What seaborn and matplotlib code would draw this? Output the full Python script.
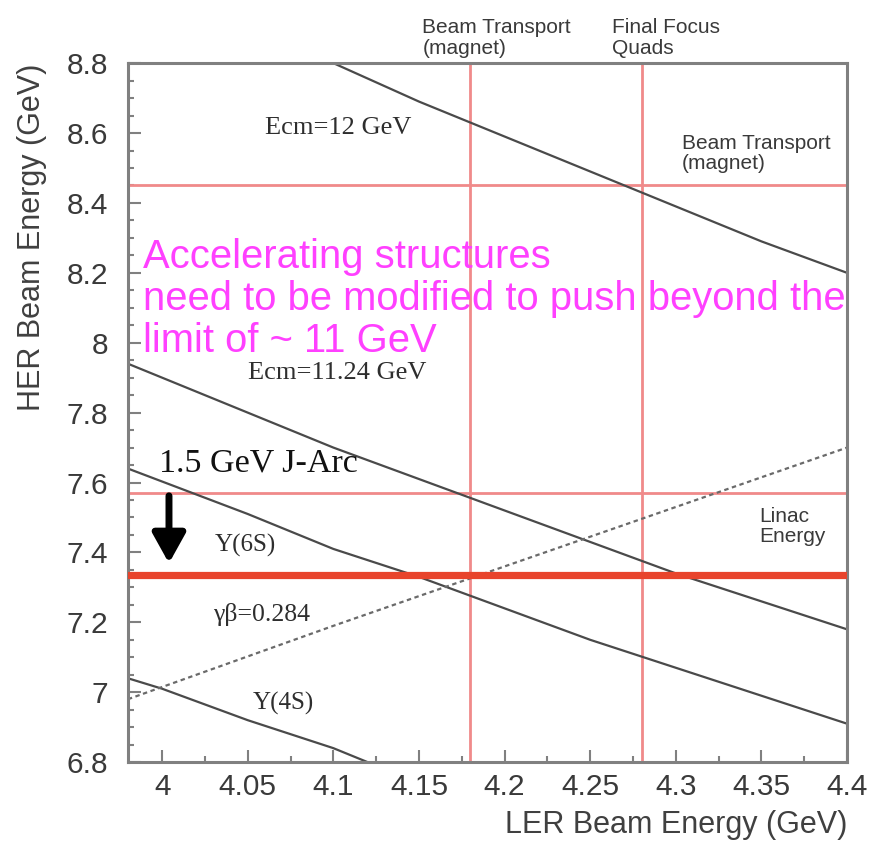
import numpy as np
import pandas as pd
import matplotlib
matplotlib.use("Agg")
import matplotlib.pyplot as plt
from matplotlib.ticker import MultipleLocator, FixedLocator
import seaborn as sns

# --- data -------------------------------------------------------------
# constant centre-of-mass energy curves (LER energy, HER energy) in GeV
ecm12_ler = [4.10, 4.15, 4.20, 4.25, 4.30, 4.35, 4.40]
ecm12_her = [8.80, 8.69, 8.59, 8.49, 8.39, 8.29, 8.20]

ecm1124_ler = [3.98, 4.05, 4.10, 4.15, 4.20, 4.25, 4.30, 4.35, 4.40]
ecm1124_her = [7.94, 7.80, 7.70, 7.61, 7.52, 7.43, 7.34, 7.26, 7.18]

y6s_ler = [3.98, 4.05, 4.10, 4.15, 4.20, 4.25, 4.30, 4.35, 4.40]
y6s_her = [7.64, 7.51, 7.41, 7.33, 7.24, 7.15, 7.07, 6.99, 6.91]

y4s_ler = [3.98, 4.00, 4.05, 4.10, 4.12]
y4s_her = [7.04, 7.01, 6.92, 6.84, 6.80]

# constant boost line
boost_ler = [3.98, 4.10, 4.20, 4.30, 4.40]
boost_her = [6.98, 7.19, 7.36, 7.53, 7.70]

# hardware limits
ler_limits = [4.18, 4.28]          # beam transport, final focus quads
her_limits = [8.45, 7.57]          # beam transport, linac energy
her_operating = 7.335              # 1.5 GeV J-Arc reduction

x_ticks = [4.0, 4.05, 4.1, 4.15, 4.2, 4.25, 4.3, 4.35, 4.4]
x_ticklabels = ["4", "4.05", "4.1", "4.15", "4.2", "4.25", "4.3", "4.35", "4.4"]
y_ticks = [6.8, 7.0, 7.2, 7.4, 7.6, 7.8, 8.0, 8.2, 8.4, 8.6, 8.8]
y_ticklabels = ["6.8", "7", "7.2", "7.4", "7.6", "7.8", "8", "8.2", "8.4", "8.6", "8.8"]

frames = []
for name, xs, ys in [("Ecm=12", ecm12_ler, ecm12_her),
                     ("Ecm=11.24", ecm1124_ler, ecm1124_her),
                     ("Y6S", y6s_ler, y6s_her),
                     ("Y4S", y4s_ler, y4s_her)]:
    frames.append(pd.DataFrame({"LER": xs, "HER": ys, "curve": name}))
curves = pd.concat(frames, ignore_index=True)
boost = pd.DataFrame({"LER": boost_ler, "HER": boost_her})

# --- figure -----------------------------------------------------------
sns.set_style("white")
plt.rcParams["font.family"] = ["Liberation Sans", "DejaVu Sans"]

fig = plt.figure(figsize=(8.7, 8.44), dpi=100)
ax = fig.add_axes([0.147, 0.097, 0.8266, 0.8282])

frame_col = "#808080"
line_col = "#4a4a4a"
red_thin = "#f08a8a"
red_thick = "#e8442c"

for xv in ler_limits:
    ax.axvline(xv, color=red_thin, lw=2.0, zorder=1)
for yv in her_limits:
    ax.axhline(yv, color=red_thin, lw=2.0, zorder=1)
ax.axhline(her_operating, color=red_thick, lw=5.2, zorder=3)

sns.lineplot(data=curves, x="LER", y="HER", units="curve", estimator=None,
             color=line_col, lw=1.6, sort=False, ax=ax, zorder=2)
sns.lineplot(data=boost, x="LER", y="HER", color="#6a6a6a", lw=1.6,
             ax=ax, zorder=2, linestyle=(0, (2.0, 1.6)))

ax.set_xlim(3.98, 4.40)
ax.set_ylim(6.8, 8.8)

ax.xaxis.set_major_locator(FixedLocator(x_ticks))
ax.set_xticklabels(x_ticklabels)
ax.xaxis.set_minor_locator(MultipleLocator(0.025))
ax.yaxis.set_major_locator(FixedLocator(y_ticks))
ax.set_yticklabels(y_ticklabels)
ax.yaxis.set_minor_locator(MultipleLocator(0.05))

ax.tick_params(which="both", direction="in", color=frame_col, width=1.5,
               top=False, right=False, bottom=True, left=True)
ax.tick_params(which="major", length=9, labelsize=21.5, labelcolor="#3a3a3a")
ax.tick_params(axis="y", which="major", pad=14)
ax.tick_params(axis="x", which="major", pad=8)
ax.tick_params(which="minor", length=4.5)

for sp in ax.spines.values():
    sp.set_visible(True)
    sp.set_color(frame_col)
    sp.set_linewidth(2.2)

ax.set_xlabel("LER Beam Energy (GeV)", fontsize=22, color="#404040",
              loc="right", labelpad=6)
ax.set_ylabel("HER Beam Energy (GeV)", fontsize=22, color="#404040",
              loc="top", labelpad=14)

# curve annotations (serif, as in the original physics figure)
serif = ["Liberation Serif", "DejaVu Serif"]
tcol = "#2e2e2e"
ax.text(4.060, 8.614, "Ecm=12 GeV", family=serif, fontsize=19, color=tcol, va="center")
ax.text(4.050, 7.912, "Ecm=11.24 GeV", family=serif, fontsize=19, color=tcol, va="center")
ax.text(3.998, 7.656, "1.5 GeV J-Arc", family=serif, fontsize=24.5, color="#111111", va="center")
ax.text(4.031, 7.421, "Υ(6S)", family=serif, fontsize=18, color=tcol, va="center")
ax.text(4.030, 7.221, "γβ=0.284", family=serif, fontsize=18.5, color=tcol, va="center")
ax.text(4.053, 6.969, "Υ(4S)", family=serif, fontsize=18, color=tcol, va="center")

# hardware limit labels
scol = "#3a3a3a"
ax.text(4.152, 8.872, "Beam Transport\n(magnet)", fontsize=15, color=scol,
        va="center", ha="left", linespacing=1.1, clip_on=False)
ax.text(4.2625, 8.872, "Final Focus\nQuads", fontsize=15, color=scol,
        va="center", ha="left", linespacing=1.1, clip_on=False)
ax.text(4.3036, 8.541, "Beam Transport\n(magnet)", fontsize=15, color=scol,
        va="center", ha="left", linespacing=1.1)
ax.text(4.349, 7.474, "Linac\nEnergy", fontsize=15, color=scol,
        va="center", ha="left", linespacing=1.1)

# J-Arc energy reduction arrow
ax.annotate("", xy=(4.004, 7.369), xytext=(4.004, 7.562),
            arrowprops=dict(arrowstyle="-|>,head_width=0.5,head_length=0.9",
                            mutation_scale=20, lw=5, color="black",
                            shrinkA=0, shrinkB=0),
            zorder=4)

# overlay note
ax.text(3.989, 8.30, "Accelerating structures\nneed to be modified to push beyond the\nlimit of ~ 11 GeV",
        fontsize=28.8, color="#ff40ff", va="top", ha="left", linespacing=1.14, zorder=5)

fig.savefig("out.png", dpi=100)
